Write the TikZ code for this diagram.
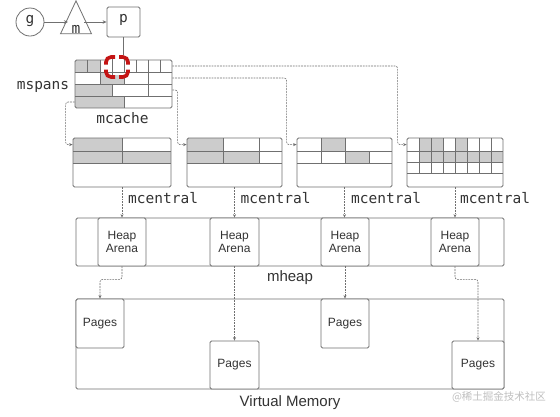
\documentclass[tikz,border=0pt]{standalone}
\usepackage{fontspec}
\setmainfont{Liberation Sans}
\newfontfamily\monof{DejaVu Sans Mono}
\newfontfamily\cjkf{Noto Sans CJK SC}
\usetikzlibrary{arrows.meta,shapes.geometric}
\definecolor{ln}{HTML}{707070}
\definecolor{gf}{HTML}{CCCCCC}
\definecolor{rd}{HTML}{C41414}
\definecolor{tx}{HTML}{333333}
\begin{document}
\begin{tikzpicture}[x=1pt,y=-1pt,
  box/.style={draw=ln, line width=0.8pt, rounded corners=1.5pt, inner sep=0pt},
  wbox/.style={box, fill=white},
  conn/.style={draw=ln, line width=0.6pt, dash pattern=on 1.8pt off 1pt, rounded corners=2.5pt, -{Stealth[length=3.5pt,width=3pt]}},
  solidarr/.style={draw=ln, line width=0.7pt, -{Stealth[length=4pt,width=3.5pt]}},
  grid/.style={draw=ln, line width=0.7pt},
  monolbl/.style={font=\monof\fontsize{14.5}{16}\selectfont, text=tx, inner sep=0pt},
  sanslbl/.style={font=\fontsize{12}{14}\selectfont, text=tx, align=center, inner sep=0pt},
  bigsans/.style={font=\fontsize{15}{17}\selectfont, text=tx, inner sep=0pt}]
\useasboundingbox[fill=white] (0,0) rectangle (560,416);

% top: g, m, p
\node[box, circle, minimum size=28pt, rounded corners=0pt] (g) at (30,22) {};
\node[monolbl] at (30,21) {g};
\node[draw=ln, line width=0.8pt, isosceles triangle, shape border rotate=90, isosceles triangle stretches, minimum height=33pt, minimum width=31pt, inner sep=0pt] (m) at (76,24) {};
\node[monolbl] at (76,29) {m};
\coordinate (mL) at (68,22);
\coordinate (mR) at (84,22);
\node[box, minimum width=33pt, minimum height=30pt] (p) at (123.5,22) {};
\node[monolbl] at (123.5,20) {p};
\draw[solidarr] (g.east) -- (mL);
\draw[solidarr] (mR) -- (p.west);

% mcache
\begin{scope}
\clip[rounded corners=1.5pt] (75,60) rectangle (172,108);
\fill[gf] (75,60) rectangle (100,72);
\fill[gf] (100,72) rectangle (124,84);
\fill[gf] (75,84) rectangle (112,96);
\fill[gf] (75,96) rectangle (124,108);
\end{scope}
\foreach \y in {72,84,96} \draw[grid] (75,\y) -- (172,\y);
\foreach \x in {87.5,100,112,124,136,148,160} \draw[grid] (\x,60) -- (\x,72);
\foreach \x in {100,124,148} \draw[grid] (\x,72) -- (\x,84);
\foreach \x in {112,148} \draw[grid] (\x,84) -- (\x,96);
\draw[grid] (124,96) -- (124,108);
\node[box, minimum width=97pt, minimum height=48pt] (mc) at (123.5,84) {};
\node[monolbl] at (43,87) {mspans};
\node[monolbl] at (122.5,118) {mcache};
\draw[ln, line width=0.8pt] (p.south) -- ++(0,18);

% red marker
\fill[white] (108,59) rectangle (126,75);
\draw[grid] (108,72) -- (126,72);
\draw[grid] (112,59) -- (112,75);
\draw[grid] (124,59) -- (124,72);
\begin{scope}[rd, line width=3.6pt, rounded corners=5pt]
\draw (106,64.5) |- (115,57);
\draw (119,57) -| (128,64.5);
\draw (128,69.5) |- (119,77);
\draw (115,77) -| (106,69.5);
\end{scope}

% mcentral 1
\begin{scope}
\clip[rounded corners=1.5pt] (73,138) rectangle (171,187);
\fill[gf] (73,138) rectangle (122,151);
\fill[gf] (73,151) rectangle (171,163);
\end{scope}
\draw[grid] (73,151) -- (171,151);
\draw[grid] (73,163) -- (171,163);
\draw[grid] (122,138) -- (122,163);
\node[box, minimum width=98pt, minimum height=49pt] (c1) at (122,162.5) {};

% mcentral 2
\begin{scope}
\clip[rounded corners=1.5pt] (187,138) rectangle (282,187);
\fill[gf] (187,138) rectangle (223,151);
\fill[gf] (187,151) rectangle (259,163);
\end{scope}
\draw[grid] (187,151) -- (282,151);
\draw[grid] (187,163) -- (282,163);
\draw[grid] (223,138) -- (223,163);
\draw[grid] (259,138) -- (259,163);
\node[box, minimum width=95pt, minimum height=49pt] (c2) at (234.5,162.5) {};

% mcentral 3
\fill[gf] (321,138) rectangle (345,151);
\fill[gf] (345,151) rectangle (369,163);
\draw[grid] (297,151) -- (392,151);
\draw[grid] (297,163) -- (392,163);
\draw[grid] (321,138) -- (321,163);
\draw[grid] (345,138) -- (345,163);
\draw[grid] (369,151) -- (369,163);
\node[box, minimum width=95pt, minimum height=49pt] (c3) at (344.5,162.5) {};

% mcentral 4
\fill[gf] (419,138) rectangle (443,151);
\fill[gf] (455,138) rectangle (467,151);
\begin{scope}
\clip[rounded corners=1.5pt] (407,138) rectangle (503,187);
\fill[gf] (419,151) rectangle (503,162);
\end{scope}
\draw[grid] (407,151) -- (503,151);
\draw[grid] (407,162) -- (503,162);
\draw[grid] (407,173) -- (503,173);
\foreach \x in {419,431,443,455,467,479,491} \draw[grid] (\x,138) -- (\x,173);
\node[box, minimum width=96pt, minimum height=49pt] (c4) at (455,162.5) {};

% mcache -> mcentral connectors
\draw[conn] ([yshift=-18pt]mc.west) -| ([xshift=-7pt,yshift=-7pt]c1.north west) -- ([yshift=-7pt]c1.north west);
\draw[conn] ([yshift=-6pt]mc.east) -| ([xshift=-9pt,yshift=-7pt]c2.north west) -- ([yshift=-7pt]c2.north west);
\draw[conn] ([yshift=6pt]mc.east) -| ([xshift=-10pt,yshift=-7pt]c3.north west) -- ([yshift=-7pt]c3.north west);
\draw[conn] ([yshift=18pt]mc.east) -| ([xshift=-9pt,yshift=-7pt]c4.north west) -- ([yshift=-7pt]c4.north west);

% mheap
\node[box, minimum width=428pt, minimum height=48pt] (heap) at (290,242) {};
\node[wbox, sanslbl, minimum width=48pt, minimum height=48pt] (a1) at (122,242) {Heap\\[-1pt]Arena};
\node[wbox, sanslbl, minimum width=49pt, minimum height=48pt] (a2) at (234.5,242) {Heap\\[-1pt]Arena};
\node[wbox, sanslbl, minimum width=48pt, minimum height=48pt] (a3) at (345,242) {Heap\\[-1pt]Arena};
\node[wbox, sanslbl, minimum width=48pt, minimum height=48pt] (a4) at (455,242) {Heap\\[-1pt]Arena};
\node[bigsans] at (290,277.5) {mheap};

% mcentral -> arena
\draw[conn] (c1.south) -- (a1.north);
\draw[conn] (c2.south) -- (a2.north);
\draw[conn] (c3.south) -- (c3.south |- a3.north);
\draw[conn] (c4.south) -- (a4.north);
\node[monolbl, anchor=west] at ([xshift=6pt,yshift=-11pt]c1.south) {mcentral};
\node[monolbl, anchor=west] at ([xshift=6pt,yshift=-11pt]c2.south) {mcentral};
\node[monolbl, anchor=west] at ([xshift=6.5pt,yshift=-11pt]c3.south) {mcentral};
\node[monolbl, anchor=west] at ([xshift=5pt,yshift=-11pt]c4.south) {mcentral};

% virtual memory
\node[box, minimum width=428pt, minimum height=90pt] (vm) at (290,344) {};
\node[wbox, sanslbl, minimum width=48pt, minimum height=49pt] (p1) at (100,323.5) {Pages};
\node[wbox, sanslbl, minimum width=49pt, minimum height=48pt] (p2) at (234.5,365) {Pages};
\node[wbox, sanslbl, minimum width=48pt, minimum height=49pt] (p3) at (345,323.5) {Pages};
\node[wbox, sanslbl, minimum width=52pt, minimum height=48pt] (p4) at (478,365) {Pages};
\node[bigsans] at (290,403) {Virtual Memory};

% arena -> pages
\draw[conn] (a1.south) -- ++(0,13) -| (p1.north);
\draw[conn] (a2.south) -- (p2.north);
\draw[conn] (a3.south) -- (p3.north);
\draw[conn] (a4.south) -- ++(0,13) -| (p4.north);

% watermark
\node[font=\cjkf\fontsize{10.5}{12}\selectfont, text=black!25, inner sep=0pt] (wm) at (499,397) {@稀土掘金技术社区};
\end{tikzpicture}
\end{document}
